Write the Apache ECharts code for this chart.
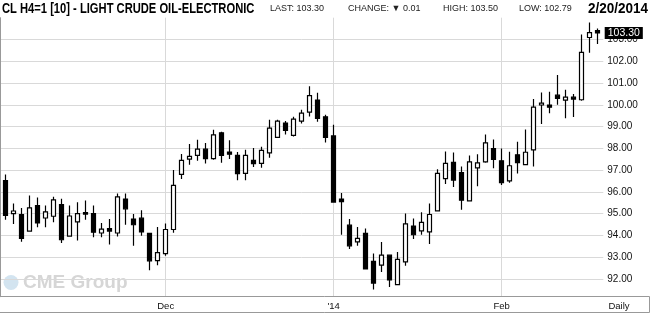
<!DOCTYPE html>
<html>
<head>
<meta charset="utf-8">
<script src="https://cdn.jsdelivr.net/npm/echarts@6/dist/echarts.min.js"></script>
<style>html,body{margin:0;padding:0;background:#fff}#main{width:650px;height:314px}</style>
</head>
<body>
<div id="main"></div>
<script>
// ---- data ----
const dates = [
 '2013-11-01','2013-11-04','2013-11-05','2013-11-06','2013-11-07','2013-11-08',
 '2013-11-11','2013-11-12','2013-11-13','2013-11-14','2013-11-15',
 '2013-11-18','2013-11-19','2013-11-20','2013-11-21','2013-11-22',
 '2013-11-25','2013-11-26','2013-11-27','2013-11-29',
 '2013-12-02','2013-12-03','2013-12-04','2013-12-05','2013-12-06',
 '2013-12-09','2013-12-10','2013-12-11','2013-12-12','2013-12-13',
 '2013-12-16','2013-12-17','2013-12-18','2013-12-19','2013-12-20',
 '2013-12-23','2013-12-24','2013-12-26','2013-12-27','2013-12-30','2013-12-31',
 '2014-01-02','2014-01-03','2014-01-06','2014-01-07','2014-01-08','2014-01-09','2014-01-10',
 '2014-01-13','2014-01-14','2014-01-15','2014-01-16','2014-01-17',
 '2014-01-21','2014-01-22','2014-01-23','2014-01-24',
 '2014-01-27','2014-01-28','2014-01-29','2014-01-30','2014-01-31',
 '2014-02-03','2014-02-04','2014-02-05','2014-02-06','2014-02-07',
 '2014-02-10','2014-02-11','2014-02-12','2014-02-13','2014-02-14',
 '2014-02-18','2014-02-19','2014-02-20'
];
const openVals  = [96.52,95.00,94.95,94.20,95.37,94.80,94.88,95.42,93.97,94.62,95.05,95.00,94.11,94.31,94.11,95.67,94.75,94.79,94.09,92.84,
 93.16,94.27,96.80,97.50,97.68,97.96,97.53,98.71,97.83,97.68,96.85,97.45,97.31,97.79,98.50,99.16,98.59,99.25,99.66,100.22,99.45,
 98.57,95.67,94.47,93.70,94.09,92.81,92.63,93.09,91.74,92.78,94.43,94.21,94.16,95.13,96.61,97.35,96.89,95.59,97.10,97.38,97.99,
 97.43,96.50,97.70,97.25,97.93,99.99,99.99,100.44,100.21,100.35,100.23,103.09,103.41];
const closeVals = [94.92,95.12,93.86,95.26,94.57,95.08,95.63,93.80,94.89,95.00,94.98,94.15,94.29,94.20,95.77,95.22,94.49,94.16,92.83,93.21,
 94.27,96.30,97.45,97.63,97.96,97.53,98.62,97.67,97.73,96.84,97.68,97.30,97.91,98.93,99.25,98.82,99.34,99.62,100.42,99.37,98.50,
 95.53,95.55,93.52,93.86,92.46,91.81,93.09,91.95,92.90,94.53,94.03,94.60,94.96,96.85,97.31,96.54,95.62,97.38,97.33,98.25,97.49,
 96.42,97.20,97.34,97.82,99.89,100.08,99.89,100.29,100.35,100.26,102.41,103.31,103.30];
const lowVals   = [94.72,94.52,93.71,94.20,94.37,94.37,94.60,93.65,93.94,93.77,94.72,93.91,93.92,93.58,93.95,94.49,93.52,93.98,92.40,92.63,
 93.06,94.12,96.59,97.25,97.43,97.30,97.47,97.34,97.51,96.53,96.53,97.14,97.11,97.57,98.47,98.63,98.54,99.14,99.46,99.22,98.27,
 95.50,94.03,93.37,93.52,92.46,91.51,92.32,91.63,91.74,92.60,93.84,94.03,93.60,95.10,96.36,96.22,95.18,95.59,96.26,97.34,97.09,
 96.32,96.42,96.84,97.25,97.16,99.12,99.61,100.00,99.38,99.44,100.18,102.39,102.79];
const highVals  = [96.80,95.46,95.26,95.83,95.74,95.37,95.78,95.68,95.37,95.52,95.60,95.37,94.57,94.75,95.92,95.93,94.98,95.16,94.12,94.38,
 94.55,97.00,97.74,98.20,98.39,98.25,98.85,98.76,98.37,97.83,97.93,98.02,98.07,99.31,99.31,99.26,99.45,99.77,100.85,100.55,99.54,
 99.08,95.95,94.75,94.38,94.32,93.17,93.70,93.10,93.24,95.01,94.78,95.06,95.47,97.04,97.85,97.81,97.17,97.67,97.73,98.63,98.40,
 97.99,97.84,98.30,98.86,100.26,100.56,100.60,101.37,100.69,100.50,103.23,103.78,103.50];
const monthNames = ['Jan','Feb','Mar','Apr','May','Jun','Jul','Aug','Sep','Oct','Nov','Dec'];
const titleText = 'CL H4=1 [10] - LIGHT CRUDE OIL-ELECTRONIC';
const lastPrice = 103.30, changeVal = 0.01, highPrice = 103.50, lowPrice = 102.79;
const dateText = '2/20/2014';
const yMin = 91.184, yMax = 104;

// ---- helpers ----
function isMonthStart(i){
  if (i === 0) return false;
  return dates[i].slice(5,7) !== dates[i-1].slice(5,7);
}
function monthLabel(i){
  const m = parseInt(dates[i].slice(5,7),10);
  if (m === 1) return "'" + dates[i].slice(2,4);
  return monthNames[m-1];
}
const candleData = dates.map((d,i)=>[openVals[i], closeVals[i], lowVals[i], highVals[i]]);

const FONT = 'Liberation Sans';
const chart = echarts.init(document.getElementById('main'), null, {renderer:'canvas'});
const option = {
  animation: false,
  backgroundColor: '#fff',
  grid: [
    {left: 0, right: 46.7, top: 17.7, bottom: 17.3, outerBoundsMode: 'none', containLabel:false},
    {left: 1.7, right: 48.3, top: 17.7, bottom: 17.3, outerBoundsMode: 'none', containLabel:false}
  ],
  xAxis: [
    {gridIndex: 0, type: 'value', min: 0, max: 1, show: false},
    {gridIndex: 1, type: 'category', data: dates, boundaryGap: true,
     axisLine: {show: false},
     axisTick: {show: true, inside: true, length: 279, alignWithLabel: true,
       interval: (i) => isMonthStart(i), lineStyle: {color: '#d9d9d9', width: 1}},
     axisLabel: {interval: (i) => isMonthStart(i), formatter: (v, i) => monthLabel(i),
       margin: 5, fontSize: 9.5, fontFamily: FONT, color: '#111'},
     splitLine: {show: false}}
  ],
  yAxis: [
    {gridIndex: 0, type: 'value', position: 'right', min: yMin, max: yMax, splitNumber: 13,
     axisLine: {show: true, lineStyle: {color: '#999', width: 1}},
     axisTick: {show: false},
     axisLabel: {show: true, showMinLabel: false, showMaxLabel: false, margin: 4,
       formatter: (v) => (Math.abs(v - Math.round(v)) < 1e-6 && v < 103.5) ? v.toFixed(2) : '',
       fontSize: 10, fontFamily: FONT, color: '#111'},
     splitLine: {show: true, showMinLine: false, showMaxLine: false, lineStyle: {color: '#d9d9d9', width: 1}}},
    {gridIndex: 1, type: 'value', min: yMin, max: yMax, show: false}
  ],
  series: [{
    type: 'candlestick',
    xAxisIndex: 1, yAxisIndex: 1,
    data: candleData,
    barWidth: 5,
    itemStyle: {color: '#fff', color0: '#000', borderColor: '#000', borderColor0: '#000', borderWidth: 1.2},
    markLine: {
      silent: true, symbol: ['none', 'none'], animation: false, z: 20,
      lineStyle: {color: 'rgba(0,0,0,0)', width: 1, type: 'solid'},
      label: {show: true, position: 'end', distance: 3, formatter: lastPrice.toFixed(2),
        backgroundColor: '#000', color: '#fff', opacity: 1, fontSize: 10.5, fontFamily: FONT, padding: [1, 3, 0, 3]},
      data: [{yAxis: lastPrice}]
    }
  }],
  graphic: [
    {type: 'text', x: 2, y: 9, scaleX: 0.745, z: 10, style: {text: titleText, font: 'bold 15px "Liberation Sans"', fill: '#000', verticalAlign: 'middle'}},
    {type: 'text', x: 270, y: 9, z: 10, style: {text: 'LAST: ' + lastPrice.toFixed(2), font: '9px "Liberation Sans"', fill: '#222', verticalAlign: 'middle'}},
    {type: 'text', x: 348, y: 9, z: 10, style: {text: 'CHANGE: \u25BC ' + changeVal.toFixed(2), font: '9px "Liberation Sans"', fill: '#222', verticalAlign: 'middle'}},
    {type: 'text', x: 443, y: 9, z: 10, style: {text: 'HIGH: ' + highPrice.toFixed(2), font: '9px "Liberation Sans"', fill: '#222', verticalAlign: 'middle'}},
    {type: 'text', x: 519, y: 9, z: 10, style: {text: 'LOW: ' + lowPrice.toFixed(2), font: '9px "Liberation Sans"', fill: '#222', verticalAlign: 'middle'}},
    {type: 'text', x: 648, y: 9, scaleX: 0.9, z: 10, style: {text: dateText, font: 'bold 15px "Liberation Sans"', fill: '#000', align: 'right', verticalAlign: 'middle'}},
    {type: 'polyline', z: 10, shape: {points: [[0, 296.5], [649.5, 296.5], [649.5, 312.5], [0, 312.5]]},
     style: {stroke: '#999', lineWidth: 1, fill: null}},
    {type: 'text', x: 619, y: 306, z: 10, style: {text: 'Daily', font: '9.5px "Liberation Sans"', fill: '#111', align: 'center', verticalAlign: 'middle'}},
    {type: 'circle', z: -1, shape: {cx: 11, cy: 282.5, r: 7.5}, style: {fill: '#d3e4f0'}},
    {type: 'text', z: -1, x: 23, y: 283, style: {text: 'CME Group', font: 'bold 19px "Liberation Sans"', fill: '#d6d6d6', verticalAlign: 'middle'}}
  ]
};
chart.setOption(option);
</script>
</body>
</html>
